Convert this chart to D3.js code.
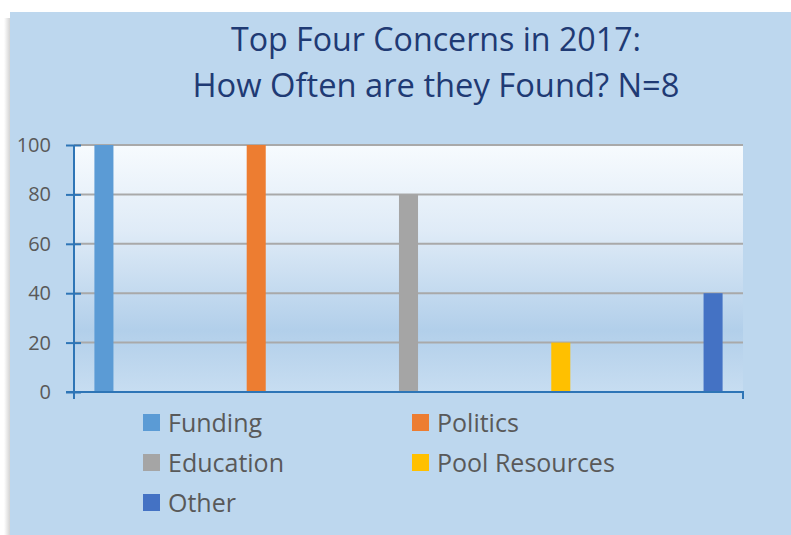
<!DOCTYPE html>
<html><head><meta charset="utf-8">
<script src="https://cdn.jsdelivr.net/npm/d3@7"></script>
<style>
html,body{margin:0;padding:0;background:#fff;}
svg{display:block;}
</style></head>
<body>
<svg id="chart" width="791" height="535"></svg>
<script>
const titleLines = ["Top Four Concerns in 2017:", "How Often are they Found? N=8"];
const seriesNames = ["Funding", "Politics", "Education", "Pool Resources", "Other"];
const seriesValues = [100, 100, 80, 20, 40];
const seriesColors = ["#5b9bd5", "#ed7d31", "#a5a5a5", "#ffc000", "#4472c4"];
const yTicks = [0, 20, 40, 60, 80, 100];

const svg = d3.select("#chart");
const defs = svg.append("defs");

// panel shadow
const sh = defs.append("linearGradient").attr("id","shadow").attr("x1","0").attr("x2","1").attr("y1","0").attr("y2","0");
sh.append("stop").attr("offset","0").attr("stop-color","#ffffff");
sh.append("stop").attr("offset","1").attr("stop-color","#d4d4d4");
svg.append("rect").attr("x",4).attr("y",18).attr("width",6).attr("height",517).attr("fill","url(#shadow)");

svg.append("rect").attr("x",10).attr("y",12).attr("width",781).attr("height",523).attr("fill","#bdd7ee");

const plot = {x0:74, x1:743, y0:145, y1:392};

const g = defs.append("linearGradient").attr("id","plotbg").attr("x1","0").attr("x2","0").attr("y1","0").attr("y2","1");
g.append("stop").attr("offset","0").attr("stop-color","#f7fbfe");
g.append("stop").attr("offset","0.35").attr("stop-color","#dfebf7");
g.append("stop").attr("offset","0.75").attr("stop-color","#b2cfea");
g.append("stop").attr("offset","1").attr("stop-color","#c7ddf1");
svg.append("rect").attr("x",plot.x0).attr("y",plot.y0).attr("width",plot.x1-plot.x0).attr("height",plot.y1-plot.y0).attr("fill","url(#plotbg)");

const y = d3.scaleLinear().domain([0,100]).range([plot.y1, plot.y0]);
const x = d3.scaleBand().domain(seriesNames).range([plot.x0, plot.x1]).paddingInner(0.875).paddingOuter(0.134);

// gridlines
svg.append("g").selectAll("line").data(yTicks.filter(d=>d>0)).join("line")
  .attr("x1",plot.x0).attr("x2",plot.x1)
  .attr("y1",d=>y(d)).attr("y2",d=>y(d))
  .attr("stroke","#a9a9a9").attr("stroke-width",2);

// bars
svg.append("g").selectAll("rect").data(seriesNames).join("rect")
  .attr("x",d=>x(d)).attr("width",x.bandwidth())
  .attr("y",(d,i)=>y(seriesValues[i])).attr("height",(d,i)=>y(0)-y(seriesValues[i]))
  .attr("fill",(d,i)=>seriesColors[i]);

// y axis
const yAxis = d3.axisLeft(y).tickValues(yTicks).tickSize(8).tickPadding(15);
const ya = svg.append("g").attr("transform",`translate(${plot.x0},0)`).call(yAxis);
ya.select(".domain").remove();
ya.selectAll(".tick line").attr("x1",-8).attr("x2",7).attr("stroke","#2e75b6").attr("stroke-width",2);
ya.selectAll(".tick text").attr("fill","#595959").style("font-family","'Open Sans', sans-serif").style("font-size","20px");
svg.append("line").attr("x1",plot.x0).attr("x2",plot.x0).attr("y1",plot.y0).attr("y2",plot.y1+7).attr("stroke","#2e75b6").attr("stroke-width",2);

// x axis
svg.append("line").attr("x1",plot.x0-8).attr("x2",plot.x1+1).attr("y1",plot.y1).attr("y2",plot.y1).attr("stroke","#2e75b6").attr("stroke-width",2);
svg.append("line").attr("x1",plot.x1).attr("x2",plot.x1).attr("y1",plot.y1).attr("y2",plot.y1+7).attr("stroke","#2e75b6").attr("stroke-width",2);

// title
const titleWidths = [410, 487];
svg.append("g").selectAll("text").data(titleLines).join("text")
  .attr("x",436).attr("y",(d,i)=>51+i*46)
  .attr("text-anchor","middle")
  .attr("textLength",(d,i)=>titleWidths[i])
  .attr("lengthAdjust","spacingAndGlyphs")
  .attr("fill","#1f3a74")
  .style("font-family","'Open Sans', sans-serif").style("font-size","32px")
  .text(d=>d);

// legend
const legendPos = [[143,423],[412,423],[143,463],[412,463],[143,503]];
const lg = svg.append("g").selectAll("g").data(seriesNames).join("g")
  .attr("transform",(d,i)=>`translate(${legendPos[i][0]},${legendPos[i][1]})`);
lg.append("rect").attr("x",0).attr("y",-9).attr("width",17).attr("height",17).attr("fill",(d,i)=>seriesColors[i]);
lg.append("text").attr("x",25).attr("y",0).attr("dy","0.35em")
  .attr("fill","#595959").style("font-family","'Open Sans', sans-serif").style("font-size","25px")
  .text(d=>d);
</script>
</body></html>
